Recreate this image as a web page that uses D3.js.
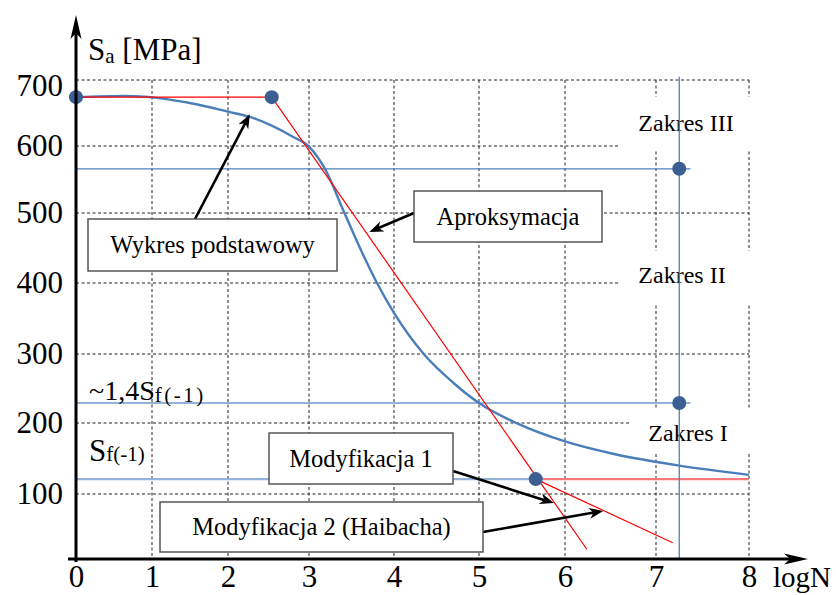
<!DOCTYPE html>
<html>
<head>
<meta charset="utf-8">
<script src="https://cdn.jsdelivr.net/npm/d3@7"></script>
<style>
  body { margin: 0; background: #fff; }
  svg { display: block; font-family: "Liberation Serif", "Times New Roman", serif; }
</style>
</head>
<body>
<svg width="836" height="595"></svg>
<script>
// Axis ticks
var xTicks = [0, 1, 2, 3, 4, 5, 6, 7, 8];
var yTicks = [100, 200, 300, 400, 500, 600, 700];

// Basic S-N curve (Wykres podstawowy)
var basicLogN = [0, 0.65, 1.55, 2, 2.27, 2.8, 3, 3.2, 3.4, 3.6, 3.8, 4, 4.35, 4.7, 5, 5.45, 6, 6.55, 7.25, 8];
var basicSa = [674, 676, 664, 652, 644, 614, 599, 563, 505, 450, 400, 358, 300, 258, 229, 199, 174, 156, 140, 127];

// Approximation (Aproksymacja)
var approxLogN = [0, 2.54, 6.24];
var approxSa = [674, 674, 15];

// Modyfikacja 1 / Modyfikacja 2 (Haibacha)
var mod1LogN = [5.66, 8];
var mod1Sa = [121, 121];
var mod2LogN = [5.66, 7.18];
var mod2Sa = [121, 25];

// Fatigue levels
var levelIII = 566;
var level14Sf = 229;
var levelSf = 121;
var levelEndLogN = 7.37;
var zoneLogN = 7.25;
var zoneTopSa = 705;

// Marked points
var pointLogN = [0, 2.54, 7.25, 7.25, 5.66];
var pointSa = [674, 674, 566, 229, 121];

var svg = d3.select("svg");

// Scales (the grid of the original is slightly uneven)
var x = d3.scaleLinear()
  .domain(xTicks)
  .range([76, 152, 228, 309, 394, 479, 565, 656, 749]);
var y = d3.scaleLinear()
  .domain([0, 100, 200, 300, 400, 500, 600, 700])
  .range([559, 494, 423, 354, 283, 213, 146, 80]);

var line = d3.line()
  .x(function (d) { return x(d[0]); })
  .y(function (d) { return y(d[1]); });

// Grid
var grid = svg.append("g")
  .attr("stroke", "#222")
  .attr("stroke-width", 1)
  .attr("stroke-dasharray", "3,2.5");
grid.selectAll(".v")
  .data(xTicks.slice(1))
  .enter().append("line")
  .attr("x1", function (d) { return x(d); })
  .attr("x2", function (d) { return x(d); })
  .attr("y1", y(700))
  .attr("y2", y(0));
grid.selectAll(".h")
  .data(yTicks)
  .enter().append("line")
  .attr("x1", x(0))
  .attr("x2", x(8))
  .attr("y1", function (d) { return y(d); })
  .attr("y2", function (d) { return y(d); });

// Zone labels (white background hides the grid)
var zones = [
  { text: "Zakres III", x: 686, y: 131, bx: 618, by: 97, bh: 54 },
  { text: "Zakres II", x: 682, y: 283, bx: 618, by: 251, bh: 53 },
  { text: "Zakres I", x: 688, y: 441, bx: 630, by: 408, bh: 44 }
];
svg.selectAll(".zoneBg")
  .data(zones)
  .enter().append("rect")
  .attr("x", function (d) { return d.bx; })
  .attr("y", function (d) { return d.by; })
  .attr("width", function (d) { return 770 - d.bx; })
  .attr("height", function (d) { return d.bh; })
  .attr("fill", "#fff");
svg.selectAll(".zoneText")
  .data(zones)
  .enter().append("text")
  .attr("x", function (d) { return d.x; })
  .attr("y", function (d) { return d.y; })
  .attr("text-anchor", "middle")
  .attr("font-size", 24)
  .text(function (d) { return d.text; });

// Level lines
svg.append("path")
  .attr("d", line([[0, levelIII], [levelEndLogN, levelIII]]))
  .attr("stroke", "#4f81bd").attr("stroke-width", 1.3).attr("fill", "none");
svg.append("path")
  .attr("d", line([[0, level14Sf], [levelEndLogN, level14Sf]]))
  .attr("stroke", "#95b3d7").attr("stroke-width", 2.2).attr("fill", "none");
svg.append("path")
  .attr("d", line([[0, levelSf], [mod1LogN[0], levelSf]]))
  .attr("stroke", "#95b3d7").attr("stroke-width", 2.2).attr("fill", "none");

// Modyfikacja 1 (light red)
svg.append("path")
  .attr("d", line(d3.zip(mod1LogN, mod1Sa)))
  .attr("stroke", "#f47a7a").attr("stroke-width", 2.4).attr("fill", "none");

// Basic curve
svg.append("path")
  .attr("d", line.curve(d3.curveMonotoneX)(d3.zip(basicLogN, basicSa)))
  .attr("stroke", "#4a7ebb").attr("stroke-width", 2.4).attr("fill", "none");
line.curve(d3.curveLinear);

// Approximation and Haibach modification
svg.append("path")
  .attr("d", line(d3.zip(approxLogN, approxSa)))
  .attr("stroke", "#ff0000").attr("stroke-width", 1.2).attr("fill", "none");
svg.append("path")
  .attr("d", line(d3.zip(mod2LogN, mod2Sa)))
  .attr("stroke", "#ff0000").attr("stroke-width", 1.2).attr("fill", "none");

// Vertical zone line
svg.append("path")
  .attr("d", line([[zoneLogN, zoneTopSa], [zoneLogN, 0]]))
  .attr("stroke", "#4f81bd").attr("stroke-width", 1.3).attr("fill", "none");

// Points
svg.selectAll(".pt")
  .data(d3.zip(pointLogN, pointSa))
  .enter().append("circle")
  .attr("cx", function (d) { return x(d[0]); })
  .attr("cy", function (d) { return y(d[1]); })
  .attr("r", 7)
  .attr("fill", "#3b5f92");

// Annotation boxes
var boxes = [
  { text: "Wykres podstawowy", x: 88, y: 219, w: 249, h: 52 },
  { text: "Aproksymacja", x: 414, y: 191, w: 188, h: 51 },
  { text: "Modyfikacja 1", x: 269, y: 433, w: 184, h: 51 },
  { text: "Modyfikacja 2 (Haibacha)", x: 160, y: 502, w: 323, h: 50 }
];

// Arrows: tail in pixels, tip on the chart in data units
var arrows = [
  { x0: 195, y0: 219, logN: 2.27, sa: 648 },
  { x0: 414, y0: 213, logN: 3.71, sa: 473 },
  { x0: 453, y0: 471, logN: 5.87, sa: 86 },
  { x0: 483, y0: 532, logN: 6.42, sa: 74 }
];
arrows.forEach(function (a) {
  var x1 = x(a.logN), y1 = y(a.sa);
  var ang = Math.atan2(y1 - a.y0, x1 - a.x0);
  svg.append("line")
    .attr("x1", a.x0).attr("y1", a.y0)
    .attr("x2", x1 - 8 * Math.cos(ang)).attr("y2", y1 - 8 * Math.sin(ang))
    .attr("stroke", "#000").attr("stroke-width", 2.6);
  svg.append("path")
    .attr("d", "M0,0L-14,-5.5L-10,0L-14,5.5Z")
    .attr("transform", "translate(" + x1 + "," + y1 + ") rotate(" + (ang * 180 / Math.PI) + ")")
    .attr("fill", "#000");
});

var box = svg.selectAll(".box")
  .data(boxes)
  .enter().append("g");
box.append("rect")
  .attr("x", function (d) { return d.x; })
  .attr("y", function (d) { return d.y; })
  .attr("width", function (d) { return d.w; })
  .attr("height", function (d) { return d.h; })
  .attr("fill", "#fff")
  .attr("stroke", "#555")
  .attr("stroke-width", 1.5);
box.append("text")
  .attr("x", function (d) { return d.x + d.w / 2; })
  .attr("y", function (d) { return d.y + d.h / 2 + 8; })
  .attr("text-anchor", "middle")
  .attr("font-size", 24.5)
  .text(function (d) { return d.text; });

// Axis tick labels
var xAxis = svg.append("g")
  .attr("transform", "translate(0," + y(0) + ")")
  .call(d3.axisBottom(x).tickValues(xTicks).tickSize(0).tickPadding(6));
var yAxis = svg.append("g")
  .attr("transform", "translate(" + x(0) + ",0)")
  .call(d3.axisLeft(y).tickValues(yTicks).tickSize(0).tickPadding(13));
[xAxis, yAxis].forEach(function (g) {
  g.attr("font-family", null).attr("font-size", null);
  g.select(".domain").remove();
  g.selectAll("text")
    .style("font-family", "'Liberation Serif', 'Times New Roman', serif")
    .style("font-size", "31px")
    .attr("fill", "#000");
});
// the "700" label sits a little below its grid line in the original
yAxis.selectAll(".tick text")
  .filter(function (d) { return d === 700; })
  .attr("dy", "0.5em");

// Axis lines with arrows
svg.append("line")
  .attr("x1", x(0)).attr("y1", y(0) + 3).attr("x2", x(0)).attr("y2", 30)
  .attr("stroke", "#000").attr("stroke-width", 3);
svg.append("path")
  .attr("d", "M0,0L-24,-5.5L-18,0L-24,5.5Z")
  .attr("transform", "translate(" + x(0) + ",15) rotate(-90)")
  .attr("fill", "#000");
svg.append("line")
  .attr("x1", 68).attr("y1", y(0)).attr("x2", 792).attr("y2", y(0))
  .attr("stroke", "#000").attr("stroke-width", 3);
svg.append("path")
  .attr("d", "M0,0L-24,-5.5L-18,0L-24,5.5Z")
  .attr("transform", "translate(808," + y(0) + ")")
  .attr("fill", "#000");

// Axis titles
var sa = svg.append("text").attr("x", 88).attr("y", 60).attr("font-size", 31);
sa.append("tspan").text("S");
sa.append("tspan").attr("font-size", 21).attr("dy", 3).text("a");
sa.append("tspan").attr("dy", -3).text(" [MPa]");

svg.append("text")
  .attr("x", 773).attr("y", 587)
  .attr("font-size", 29)
  .text("logN");

// Level labels
var l14 = svg.append("text").attr("x", 89).attr("y", 400).attr("font-size", 28);
l14.append("tspan").text("~1,4S");
l14.append("tspan").attr("font-size", 21).attr("dy", 2).attr("letter-spacing", 2.5).text("f(-1)");

var lsf = svg.append("text").attr("x", 89).attr("y", 461).attr("font-size", 31);
lsf.append("tspan").text("S");
lsf.append("tspan").attr("font-size", 21).attr("dy", 0).text("f(-1)");
</script>
</body>
</html>
